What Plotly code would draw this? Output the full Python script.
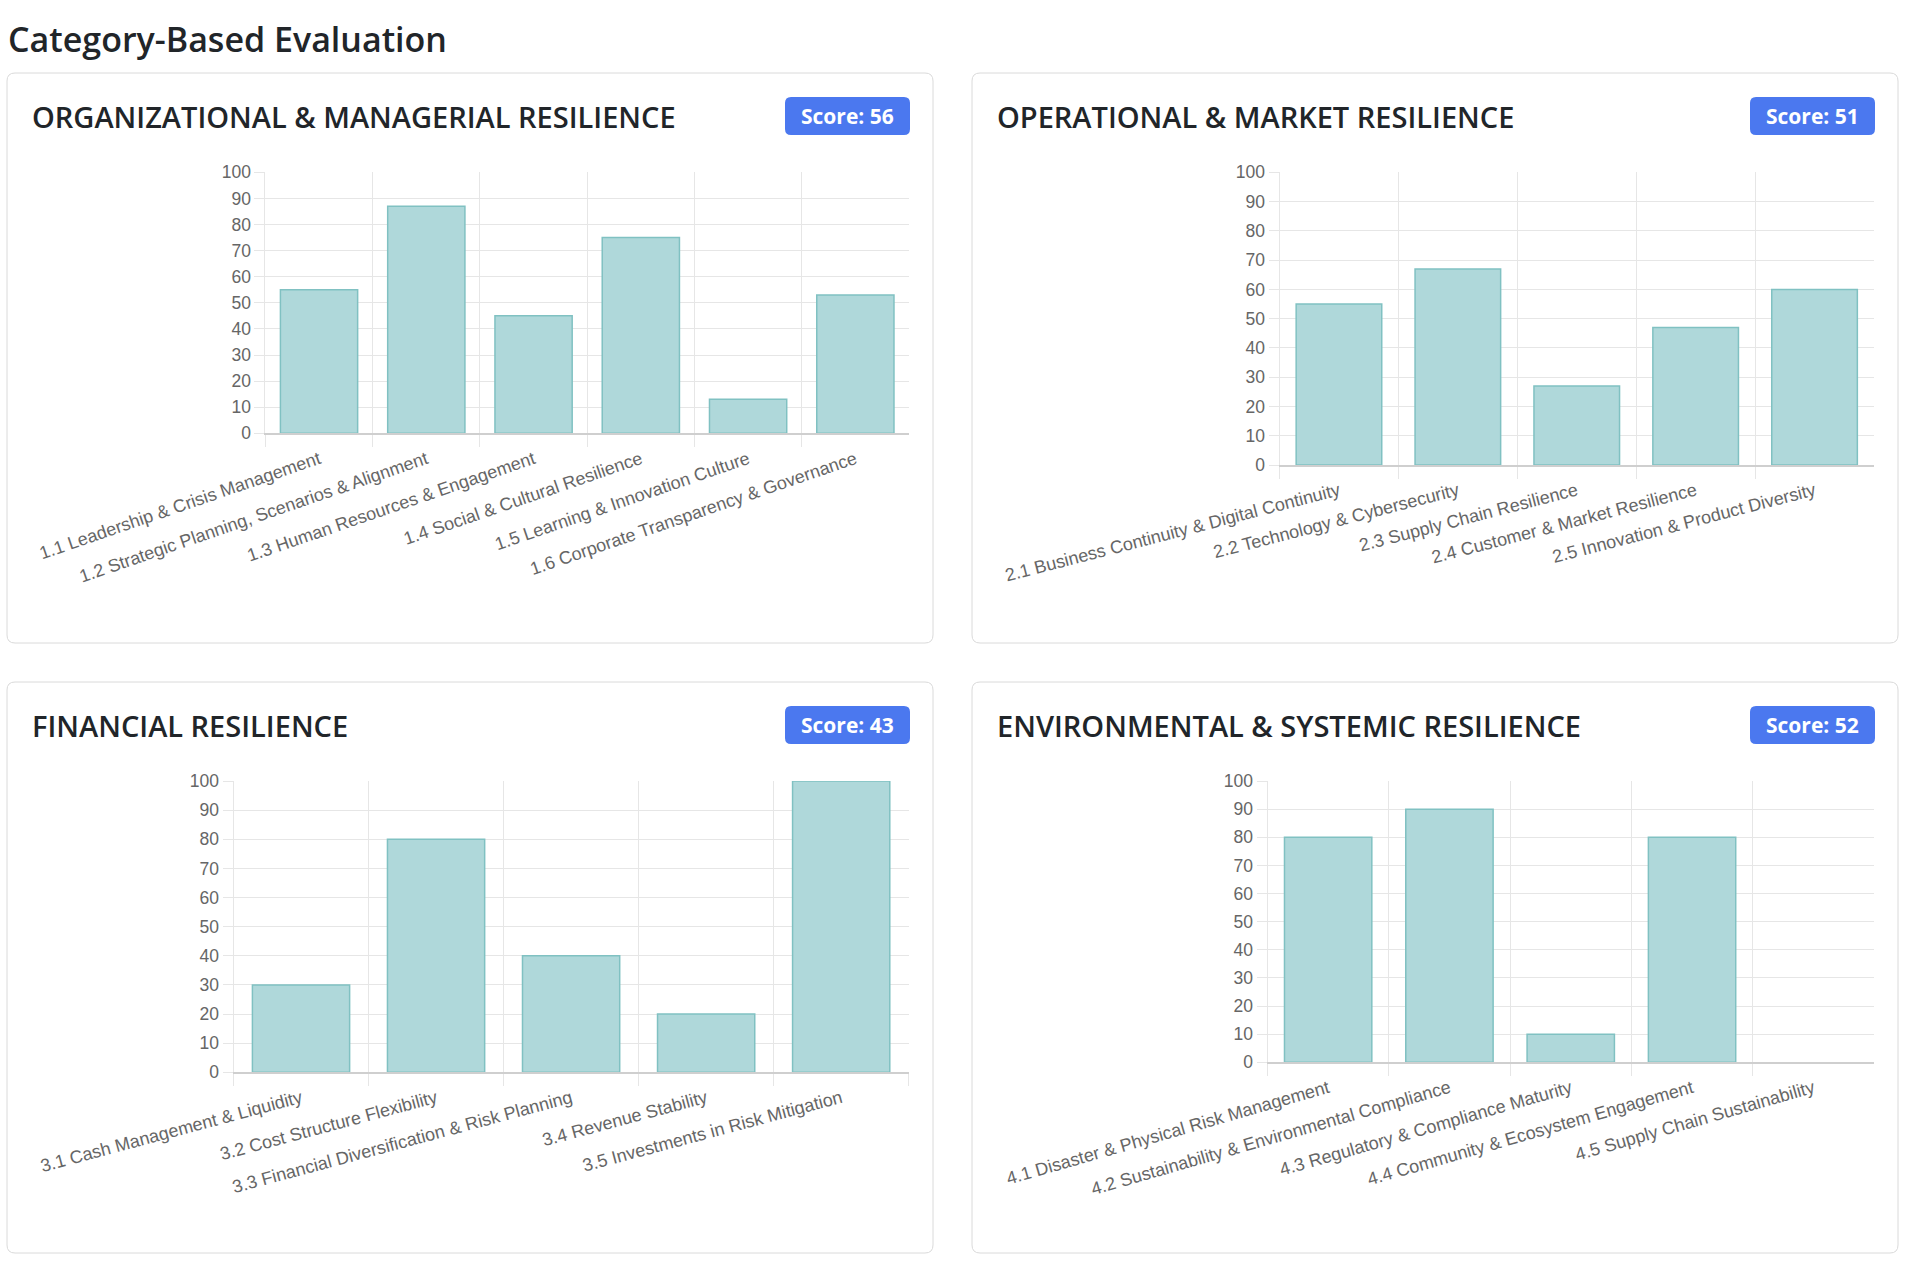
import plotly.graph_objects as go

W, H = 1906, 1261

# ---------------- data ----------------
page_title = "Category-Based Evaluation"
panel_titles = [
    "ORGANIZATIONAL & MANAGERIAL RESILIENCE",
    "OPERATIONAL & MARKET RESILIENCE",
    "FINANCIAL RESILIENCE",
    "ENVIRONMENTAL & SYSTEMIC RESILIENCE",
]
scores = [56, 51, 43, 52]

org_labels = [
    "1.1 Leadership & Crisis Management",
    "1.2 Strategic Planning, Scenarios & Alignment",
    "1.3 Human Resources & Engagement",
    "1.4 Social & Cultural Resilience",
    "1.5 Learning & Innovation Culture",
    "1.6 Corporate Transparency & Governance",
]
org_values = [55, 87, 45, 75, 13, 53]

ops_labels = [
    "2.1 Business Continuity & Digital Continuity",
    "2.2 Technology & Cybersecurity",
    "2.3 Supply Chain Resilience",
    "2.4 Customer & Market Resilience",
    "2.5 Innovation & Product Diversity",
]
ops_values = [55, 67, 27, 47, 60]

fin_labels = [
    "3.1 Cash Management & Liquidity",
    "3.2 Cost Structure Flexibility",
    "3.3 Financial Diversification & Risk Planning",
    "3.4 Revenue Stability",
    "3.5 Investments in Risk Mitigation",
]
fin_values = [30, 80, 40, 20, 100]

env_labels = [
    "4.1 Disaster & Physical Risk Management",
    "4.2 Sustainability & Environmental Compliance",
    "4.3 Regulatory & Compliance Maturity",
    "4.4 Community & Ecosystem Engagement",
    "4.5 Supply Chain Sustainability",
]
env_values = [80, 90, 10, 80, 0]

y_ticks = list(range(0, 101, 10))

# ---------------- layout geometry (pixels) ----------------
panels = [(7, 73, 933, 643), (972, 73, 1898, 643), (7, 682, 933, 1253), (972, 682, 1898, 1253)]
plot_areas = [(265.4, 172.3, 909, 433.3), (1279.5, 172.3, 1874, 465),
              (233.5, 781, 908.7, 1072.3), (1267.5, 781, 1874, 1062.3)]
tick_angles = [-19, -14.5, -15, -16]

series = [(org_labels, org_values), (ops_labels, ops_values),
          (fin_labels, fin_values), (env_labels, env_values)]

GRID = "#e6e6e6"
BAR_FILL = "#afd8da"
BAR_LINE = "#80c1c2"
BADGE = "#4b78ef"
TEXT = "#212529"
TICK_FONT = "Liberation Sans, Arial, sans-serif"
HEAD_FONT = "'Open Sans', 'Noto Sans', sans-serif"


def X(x):
    return x / W


def Y(y):
    return 1 - y / H


def rrect(x0, y0, x1, y1, r):
    return (f"M {X(x0 + r)},{Y(y0)} L {X(x1 - r)},{Y(y0)} Q {X(x1)},{Y(y0)} {X(x1)},{Y(y0 + r)} "
            f"L {X(x1)},{Y(y1 - r)} Q {X(x1)},{Y(y1)} {X(x1 - r)},{Y(y1)} "
            f"L {X(x0 + r)},{Y(y1)} Q {X(x0)},{Y(y1)} {X(x0)},{Y(y1 - r)} "
            f"L {X(x0)},{Y(y0 + r)} Q {X(x0)},{Y(y0)} {X(x0 + r)},{Y(y0)} Z")


fig = go.Figure()
shapes = []
annotations = [dict(text=page_title, x=X(6), y=Y(39), xref="paper", yref="paper",
                    xanchor="left", yanchor="middle", showarrow=False,
                    font=dict(family=HEAD_FONT, size=34, color=TEXT, weight=600))]

for i, ((labels, values), panel, area, ang) in enumerate(zip(series, panels, plot_areas, tick_angles)):
    px0, py0, px1, py1 = panel
    shapes.append(dict(type="path", path=rrect(px0, py0, px1, py1, 8), xref="paper", yref="paper",
                       line=dict(color="#dadada", width=1), fillcolor="white", layer="below"))
    # heading
    annotations.append(dict(text=panel_titles[i], x=X(px0 + 23), y=Y(py0 + 43), xref="paper", yref="paper",
                            xanchor="left", yanchor="middle", showarrow=False,
                            font=dict(family=HEAD_FONT, size=29, color=TEXT, weight=600)))
    # badge
    bx1 = px1 - 23
    bx0 = bx1 - 125
    by0, by1 = py0 + 24, py0 + 62
    shapes.append(dict(type="path", path=rrect(bx0, by0, bx1, by1, 6), xref="paper", yref="paper",
                       line=dict(width=0), fillcolor=BADGE, layer="below"))
    annotations.append(dict(text=f"Score: {scores[i]}", x=X((bx0 + bx1) / 2), y=Y((by0 + by1) / 2),
                            xref="paper", yref="paper", xanchor="center", yanchor="middle", showarrow=False,
                            font=dict(family=HEAD_FONT, size=21, color="white", weight=700)))

    ax = "" if i == 0 else str(i + 1)
    fig.add_trace(go.Bar(x=labels, y=values, xaxis="x" + ax, yaxis="y" + ax,
                         marker=dict(color=BAR_FILL,
                                     line=dict(color=BAR_LINE, width=[1.5 if v > 0 else 0 for v in values])),
                         showlegend=False, hoverinfo="x+y"))
    x0, y0, x1, y1 = area
    fig.layout["xaxis" + ax] = dict(
        domain=[X(x0), X(x1)], anchor="y" + ax, type="category", tickson="boundaries",
        showgrid=True, gridcolor=GRID, gridwidth=1, ticks="outside", ticklen=12, tickcolor=GRID,
        tickangle=ang, tickfont=dict(family=TICK_FONT, size=18, color="#666"), ticklabelstandoff=7,
        showline=True, linecolor="#cfcfcf", linewidth=1.5, zeroline=False, fixedrange=True)
    fig.layout["yaxis" + ax] = dict(
        domain=[Y(y1), Y(y0)], anchor="x" + ax, range=[0, 100], tickvals=y_ticks,
        showgrid=True, gridcolor=GRID, gridwidth=1, ticks="outside", ticklen=10, tickcolor=GRID,
        tickfont=dict(family=TICK_FONT, size=17.5, color="#666"),
        showline=True, linecolor=GRID, zeroline=False, fixedrange=True)

fig.update_layout(width=W, height=H, margin=dict(l=0, r=0, t=0, b=0),
                  paper_bgcolor="white", plot_bgcolor="rgba(0,0,0,0)",
                  bargap=0.28, shapes=shapes, annotations=annotations, template="none")

fig.write_html("out.html", config={"displayModeBar": False},
               post_script="document.body.style.margin='0';")
